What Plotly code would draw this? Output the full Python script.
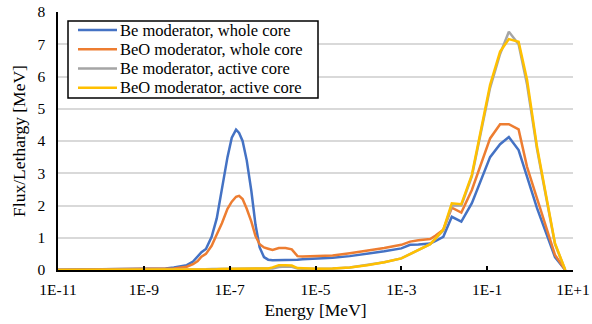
import plotly.graph_objects as go

energy_mev = [
    1.0e-11, 3.2e-11, 1.0e-10, 3.2e-10, 1.0e-9, 3.2e-9, 5.0e-9, 1.0e-8,
    1.4e-8, 1.8e-8, 2.2e-8, 2.8e-8, 3.8e-8, 5.0e-8, 6.6e-8, 8.9e-8,
    1.12e-7, 1.41e-7, 1.66e-7, 2.0e-7, 2.5e-7, 3.2e-7, 4.0e-7, 5.0e-7,
    6.3e-7, 7.9e-7, 1.0e-6, 1.4e-6, 2.0e-6, 2.8e-6, 3.8e-6, 5.0e-6,
    1.0e-5, 2.5e-5, 6.3e-5, 1.6e-4, 4.0e-4, 1.0e-3, 1.6e-3, 2.5e-3,
    4.7e-3, 6.3e-3, 9.5e-3, 1.5e-2, 2.5e-2, 4.4e-2, 0.117, 0.20,
    0.32, 0.54, 0.85, 1.45, 3.8, 6.6,
]

be_whole = [
    0.01, 0.02, 0.03, 0.03, 0.04, 0.05, 0.08, 0.15,
    0.26, 0.42, 0.55, 0.65, 1.03, 1.6, 2.5, 3.5,
    4.1, 4.35, 4.25, 4.0, 3.4, 2.45, 1.4, 0.7,
    0.4, 0.32, 0.3, 0.3, 0.31, 0.31, 0.32, 0.33,
    0.35, 0.38, 0.43, 0.5, 0.58, 0.67, 0.78, 0.79,
    0.82, 0.9, 1.03, 1.65, 1.5, 2.07, 3.5, 3.9,
    4.12, 3.72, 2.9, 1.92, 0.4, 0.0,
]

beo_whole = [
    0.01, 0.015, 0.02, 0.03, 0.03, 0.04, 0.05, 0.1,
    0.18, 0.28, 0.41, 0.5, 0.75, 1.1, 1.45, 1.9,
    2.12, 2.27, 2.3, 2.2, 1.9, 1.5, 1.05, 0.8,
    0.7, 0.66, 0.62, 0.68, 0.68, 0.64, 0.43, 0.42,
    0.43, 0.45, 0.52, 0.59, 0.68, 0.78, 0.88, 0.92,
    0.96, 1.07, 1.25, 1.93, 1.78, 2.48, 4.08, 4.52,
    4.52, 4.36, 3.2, 2.22, 0.47, 0.0,
]

be_active = [
    0.0, 0.0, 0.0, 0.01, 0.01, 0.01, 0.01, 0.01,
    0.02, 0.02, 0.02, 0.02, 0.03, 0.03, 0.04, 0.04,
    0.05, 0.05, 0.05, 0.04, 0.04, 0.04, 0.04, 0.04,
    0.04, 0.05, 0.05, 0.09, 0.11, 0.1, 0.05, 0.04,
    0.04, 0.05, 0.08, 0.15, 0.24, 0.36, 0.5, 0.62,
    0.8, 0.98, 1.22, 2.0, 2.0, 2.9, 5.65, 6.7,
    7.39, 7.0, 5.75, 3.75, 0.8, 0.0,
]

beo_active = [
    0.0, 0.0, 0.0, 0.0, 0.0, 0.01, 0.01, 0.01,
    0.01, 0.01, 0.01, 0.02, 0.02, 0.02, 0.03, 0.03,
    0.03, 0.03, 0.03, 0.03, 0.03, 0.03, 0.04, 0.04,
    0.04, 0.05, 0.08, 0.15, 0.15, 0.14, 0.06, 0.05,
    0.04, 0.05, 0.08, 0.15, 0.24, 0.36, 0.5, 0.62,
    0.8, 0.98, 1.25, 2.07, 2.04, 2.95, 5.74, 6.77,
    7.16, 7.08, 5.9, 3.82, 0.83, 0.0,
]

series_names = [
    "Be moderator, whole core",
    "BeO moderator, whole core",
    "Be moderator, active core",
    "BeO moderator, active core",
]
series_colors = ["#4472C4", "#ED7D31", "#A5A5A5", "#FFC000"]
series_values = [be_whole, beo_whole, be_active, beo_active]

x_tick_vals = [1e-11, 1e-9, 1e-7, 1e-5, 1e-3, 1e-1, 1e1]
x_tick_text = ["1E-11", "1E-9", "1E-7", "1E-5", "1E-3", "1E-1", "1E+1"]

FONT = "Liberation Serif, Tinos, Times New Roman, DejaVu Serif, serif"

W, H = 592, 324
ML, MR, MT, MB = 58, 19, 12, 54
PW, PH = W - ML - MR, H - MT - MB


def px_x(px):
    return (px - ML) / PW


def px_y(py):
    return (H - MB - py) / PH


fig = go.Figure()
for name, color, vals in zip(series_names, series_colors, series_values):
    fig.add_trace(go.Scatter(
        x=energy_mev, y=vals, mode="lines", name=name,
        line=dict(color=color, width=2.5), showlegend=False,
    ))

# Legend box drawn as in the original (compact Excel-style rows)
shapes = [dict(
    type="rect", xref="paper", yref="paper",
    x0=px_x(68), x1=px_x(318), y0=px_y(98), y1=px_y(21),
    line=dict(color="black", width=1.5), fillcolor="white", layer="above",
)]
annotations = []
row_y = [30.0, 49.3, 68.5, 87.7]
for name, color, ry in zip(series_names, series_colors, row_y):
    shapes.append(dict(
        type="line", xref="paper", yref="paper",
        x0=px_x(78), x1=px_x(117), y0=px_y(ry), y1=px_y(ry),
        line=dict(color=color, width=2.5), layer="above",
    ))
    annotations.append(dict(
        text=name, xref="paper", yref="paper",
        x=px_x(118), y=px_y(ry), xanchor="left", yanchor="middle",
        showarrow=False, font=dict(family=FONT, size=16.5, color="black"),
    ))

fig.update_layout(
    width=W, height=H,
    margin=dict(l=ML, r=MR, t=MT, b=MB, autoexpand=False),
    paper_bgcolor="white", plot_bgcolor="white",
    font=dict(family=FONT, size=15.5, color="black"),
    showlegend=False,
    shapes=shapes,
    annotations=annotations,
    xaxis=dict(
        type="log", range=[-11, 1], automargin=False,
        tickmode="array", tickvals=x_tick_vals, ticktext=x_tick_text,
        ticks="inside", ticklen=4, tickwidth=1.5, tickcolor="black",
        ticklabelstandoff=5,
        showline=True, linecolor="black", linewidth=1.5,
        showgrid=False, zeroline=False,
        title=dict(text="Energy [MeV]", font=dict(family=FONT, size=17.5), standoff=6),
        tickfont=dict(family=FONT, size=15.5),
    ),
    yaxis=dict(
        range=[0, 8], dtick=1, tick0=0, automargin=False,
        showgrid=True, gridcolor="#D9D9D9", gridwidth=1.5,
        showline=True, linecolor="black", linewidth=1.5,
        zeroline=False, ticks="", ticklabelstandoff=8,
        title=dict(text="Flux/Lethargy [MeV]", font=dict(family=FONT, size=17.5), standoff=7),
        tickfont=dict(family=FONT, size=15.5),
    ),
)

fig.write_html(
    "out.html",
    config={"displayModeBar": False},
    post_script="document.body.style.margin='0';document.body.style.padding='0';",
)
